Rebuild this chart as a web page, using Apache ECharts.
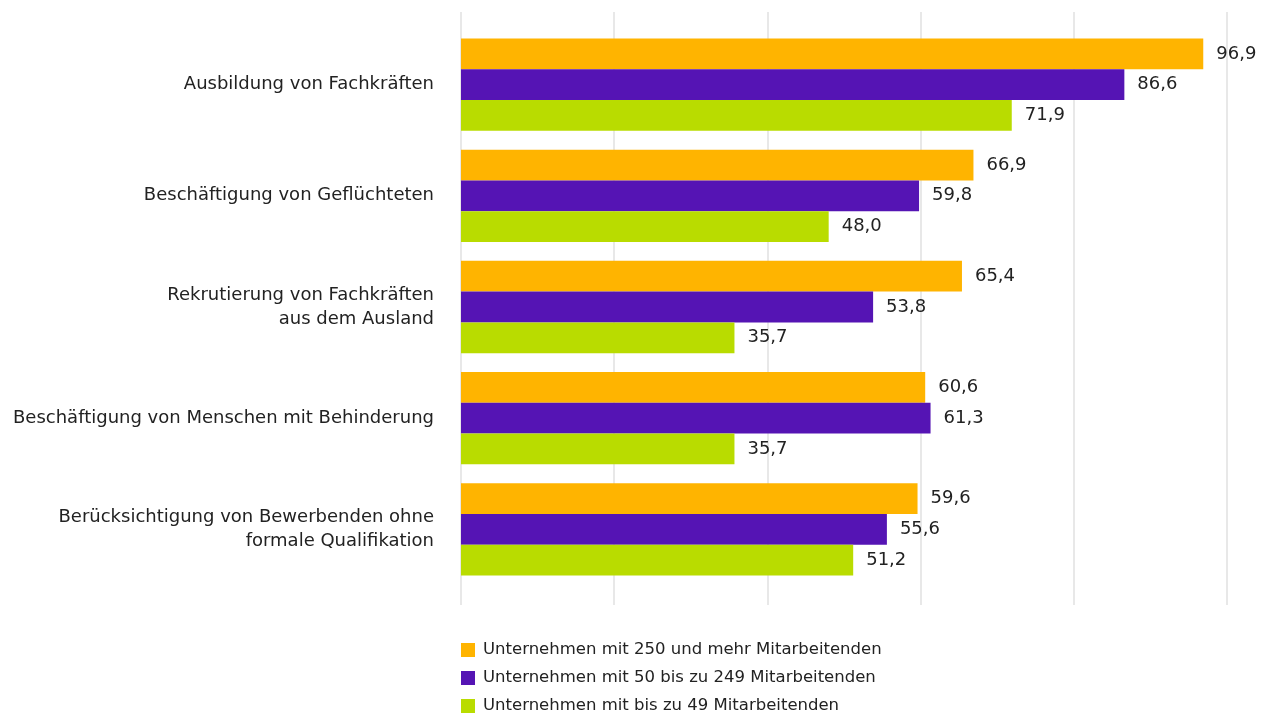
<!DOCTYPE html>
<html>
<head>
<meta charset="utf-8">
<script src="https://cdn.jsdelivr.net/npm/echarts@6/dist/echarts.min.js"></script>
<style>
  html, body { margin: 0; padding: 0; background: #fff; }
  #chart { width: 1269px; height: 716px; }
</style>
</head>
<body>
<div id="chart"></div>
<script>
  // Kategorien von oben nach unten
  const categories = [
    'Ausbildung von Fachkräften',
    'Beschäftigung von Geflüchteten',
    'Rekrutierung von Fachkräften\naus dem Ausland',
    'Beschäftigung von Menschen mit Behinderung',
    'Berücksichtigung von Bewerbenden ohne\nformale Qualifikation'
  ];
  const seriesNames = [
    'Unternehmen mit 250 und mehr Mitarbeitenden',
    'Unternehmen mit 50 bis zu 249 Mitarbeitenden',
    'Unternehmen mit bis zu 49 Mitarbeitenden'
  ];
  const large = [96.9, 66.9, 65.4, 60.6, 59.6];
  const medium = [86.6, 59.8, 53.8, 61.3, 55.6];
  const small = [71.9, 48.0, 35.7, 35.7, 51.2];
  const colors = ['#FFB400', '#5514B4', '#B9DC00'];

  const font = '"DejaVu Sans", sans-serif';
  const textColor = '#222222';

  const chart = echarts.init(document.getElementById('chart'), null, { renderer: 'canvas' });

  const barSeries = (name, data, color) => ({
    name: name,
    type: 'bar',
    xAxisIndex: 0,
    yAxisIndex: 0,
    data: data,
    barGap: '0%',
    barCategoryGap: '17%',
    itemStyle: { color: color },
    label: {
      show: true,
      position: 'right',
      distance: 13,
      color: textColor,
      fontFamily: font,
      fontSize: 18,
      formatter: p => p.value.toFixed(1).replace('.', ',')
    }
  });

  chart.setOption({
    backgroundColor: '#ffffff',
    animation: false,
    textStyle: { fontFamily: font },
    legend: {
      orient: 'vertical',
      left: 461,
      top: 641,
      height: 100,
      padding: 0,
      itemWidth: 14,
      itemHeight: 14,
      itemGap: 10,
      icon: 'rect',
      data: seriesNames,
      textStyle: {
        color: textColor, fontSize: 16.5, fontFamily: font, lineHeight: 18,
        padding: [0, 0, 0, 3]
      }
    },
    grid: [
      { left: 461, right: 42, top: 29, bottom: 131 },
      { left: 461, right: 42, top: 12, bottom: 111 }
    ],
    xAxis: [
      {
        type: 'value', gridIndex: 0, min: 0, max: 100, interval: 20,
        axisLabel: { show: false }, axisLine: { show: false },
        axisTick: { show: false }, splitLine: { show: false }
      },
      {
        type: 'value', gridIndex: 1, min: 0, max: 100, interval: 20,
        axisLabel: { show: false }, axisLine: { show: false },
        axisTick: { show: false },
        splitLine: { show: true, lineStyle: { color: '#E0E0E0', width: 1.5 } }
      }
    ],
    yAxis: [
      {
        type: 'category', gridIndex: 0, data: categories, inverse: true,
        axisLine: { show: false }, axisTick: { show: false },
        axisLabel: {
          margin: 27, color: textColor, fontSize: 18, fontFamily: font,
          lineHeight: 24, align: 'right'
        }
      },
      {
        type: 'category', gridIndex: 1, data: [], show: false
      }
    ],
    series: [
      barSeries(seriesNames[0], large, colors[0]),
      barSeries(seriesNames[1], medium, colors[1]),
      barSeries(seriesNames[2], small, colors[2])
    ]
  });
</script>
</body>
</html>
